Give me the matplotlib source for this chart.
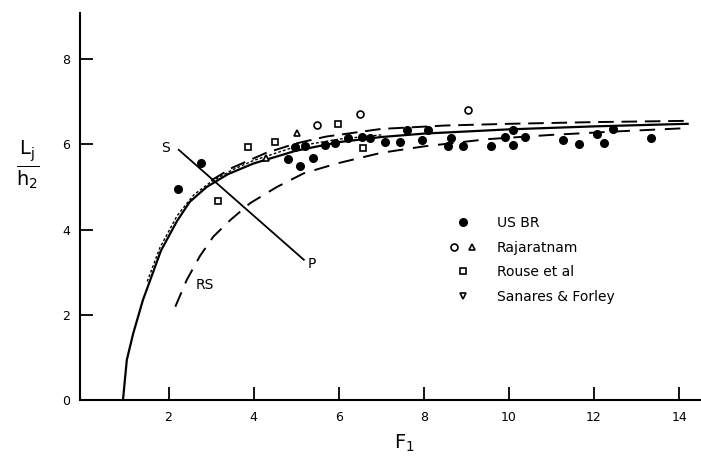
import matplotlib
matplotlib.use("Agg")
import matplotlib.pyplot as plt
from matplotlib.lines import Line2D
from matplotlib.legend_handler import HandlerTuple

plt.rcParams['font.family'] = ['DejaVu Sans']
plt.rcParams['mathtext.fontset'] = 'dejavusans'

# USBR Messpunkte (gefuellte Kreise)
usbr_x = [2.22, 2.76, 4.81, 4.97, 5.09, 5.21, 5.40, 5.68, 5.91, 6.22, 6.54, 6.73, 7.09,
          7.44, 7.60, 7.95, 8.10, 8.57, 8.65, 8.93, 9.59, 9.91, 10.10, 10.10, 10.38,
          11.28, 11.65, 12.06, 12.23, 12.44, 13.33]
usbr_y = [4.95, 5.56, 5.65, 5.93, 5.48, 5.97, 5.67, 5.99, 6.03, 6.14, 6.18, 6.14, 6.06,
          6.06, 6.34, 6.10, 6.34, 5.95, 6.14, 5.95, 5.95, 6.17, 6.34, 5.99, 6.16,
          6.10, 6.01, 6.24, 6.04, 6.36, 6.14]

# Rajaratnam (offene Kreise + Dreiecke)
raj_circ_x = [5.48, 6.51, 9.04]
raj_circ_y = [6.46, 6.71, 6.81]
raj_tri_x = [5.03, 4.30]
raj_tri_y = [6.27, 5.67]

# Rouse et al (Quadrate)
rouse_x = [3.17, 3.87, 4.50, 5.99, 6.58]
rouse_y = [4.67, 5.93, 6.05, 6.47, 5.91]

# Kurven
p_x = [0.93, 1.02, 1.17, 1.40, 1.62, 1.82, 2.2, 2.5, 2.9, 3.4, 4.0, 5.0, 6.0, 7.0, 8.0, 10.0, 12.0, 14.2]
p_y = [0.0, 0.94, 1.56, 2.35, 2.95, 3.50, 4.20, 4.65, 5.00, 5.30, 5.55, 5.85, 6.05, 6.17, 6.25, 6.35, 6.42, 6.48]

s_x = [1.5, 1.8, 2.2, 2.6, 3.0, 3.5, 4.0, 5.0, 6.0, 7.0]
s_y = [2.78, 3.58, 4.32, 4.82, 5.12, 5.40, 5.62, 5.95, 6.12, 6.22]

up_x = [3.0, 3.5, 4.3, 5.0, 5.7, 7.0, 8.5, 10.0, 12.0, 14.2]
up_y = [5.15, 5.45, 5.80, 6.02, 6.18, 6.36, 6.44, 6.48, 6.52, 6.55]

rs_x = [2.16, 2.43, 2.74, 3.05, 3.45, 3.92, 4.55, 5.18, 5.96, 7.0, 8.0, 9.5, 11.0, 12.5, 14.2]
rs_y = [2.19, 2.82, 3.38, 3.83, 4.22, 4.62, 5.00, 5.32, 5.55, 5.80, 5.95, 6.12, 6.22, 6.30, 6.38]

sp_x = [2.24, 5.18]
sp_y = [5.87, 3.29]

fig = plt.figure(figsize=(7.01, 4.61), dpi=100)
ax = fig.add_axes([80/701, 61/461, 620/701, 387/461])

ax.plot(p_x, p_y, color='k', lw=1.6)
ax.plot(s_x, s_y, color='k', lw=1.0, dashes=(2, 1.5))
ax.plot(up_x, up_y, color='k', lw=1.4, dashes=(8, 4))
ax.plot(rs_x, rs_y, color='k', lw=1.4, dashes=(8, 5))
ax.plot(sp_x, sp_y, color='k', lw=1.3)

ax.plot(usbr_x, usbr_y, 'o', color='k', ms=5.5, ls='none')
ax.plot(raj_circ_x, raj_circ_y, 'o', mfc='white', mec='k', mew=1.2, ms=5, ls='none')
ax.plot(raj_tri_x, raj_tri_y, '^', mfc='white', mec='k', mew=1.2, ms=5, ls='none')
ax.plot(rouse_x, rouse_y, 's', mfc='white', mec='k', mew=1.2, ms=4.5, ls='none')

ax.text(1.92, 5.92, "S", fontsize=10, ha='center', va='center')
ax.text(5.37, 3.19, "P", fontsize=10, ha='center', va='center')
ax.text(2.86, 2.70, "RS", fontsize=10, ha='center', va='center')

# Legende
h_usbr = Line2D([], [], marker='o', color='k', ls='none', ms=5.5)
h_rc = Line2D([], [], marker='o', mfc='white', mec='k', mew=1.2, ls='none', ms=5)
h_rt = Line2D([], [], marker='^', mfc='white', mec='k', mew=1.2, ls='none', ms=5)
h_rouse = Line2D([], [], marker='s', mfc='white', mec='k', mew=1.2, ls='none', ms=4.5)
h_sf = Line2D([], [], marker='v', mfc='white', mec='k', mew=1.2, ls='none', ms=5)
ax.legend([h_usbr, (h_rc, h_rt), h_rouse, h_sf],
          ["US BR", "Rajaratnam", "Rouse et al", "Sanares & Forley"],
          handler_map={tuple: HandlerTuple(ndivide=None, pad=0.6)},
          loc='upper left', bbox_to_anchor=(0.575, 0.507), frameon=False,
          fontsize=10, labelspacing=0.75, handlelength=2.0, handletextpad=1.45)

ax.set_xlim(-0.08, 14.49)
ax.set_ylim(0, 9.08)
ax.set_xticks([2, 4, 6, 8, 10, 12, 14])
ax.set_yticks([0, 2, 4, 6, 8])
ax.tick_params(direction='in', length=9.5, width=1.3, labelsize=9)
ax.tick_params(axis='y', pad=7)
ax.tick_params(axis='x', pad=8)

for s in ['top', 'right']:
    ax.spines[s].set_visible(False)
for s in ['left', 'bottom']:
    ax.spines[s].set_linewidth(1.5)

ax.set_xlabel(r"$\mathregular{F_1}$", fontsize=14)
ax.xaxis.set_label_coords(0.524, -0.085)
ax.set_ylabel(r"$\frac{\mathregular{L_j}}{\mathregular{h_2}}$", fontsize=20, rotation=0)
ax.yaxis.set_label_coords(-0.084, 0.54)

fig.savefig("out.png", dpi=100)
